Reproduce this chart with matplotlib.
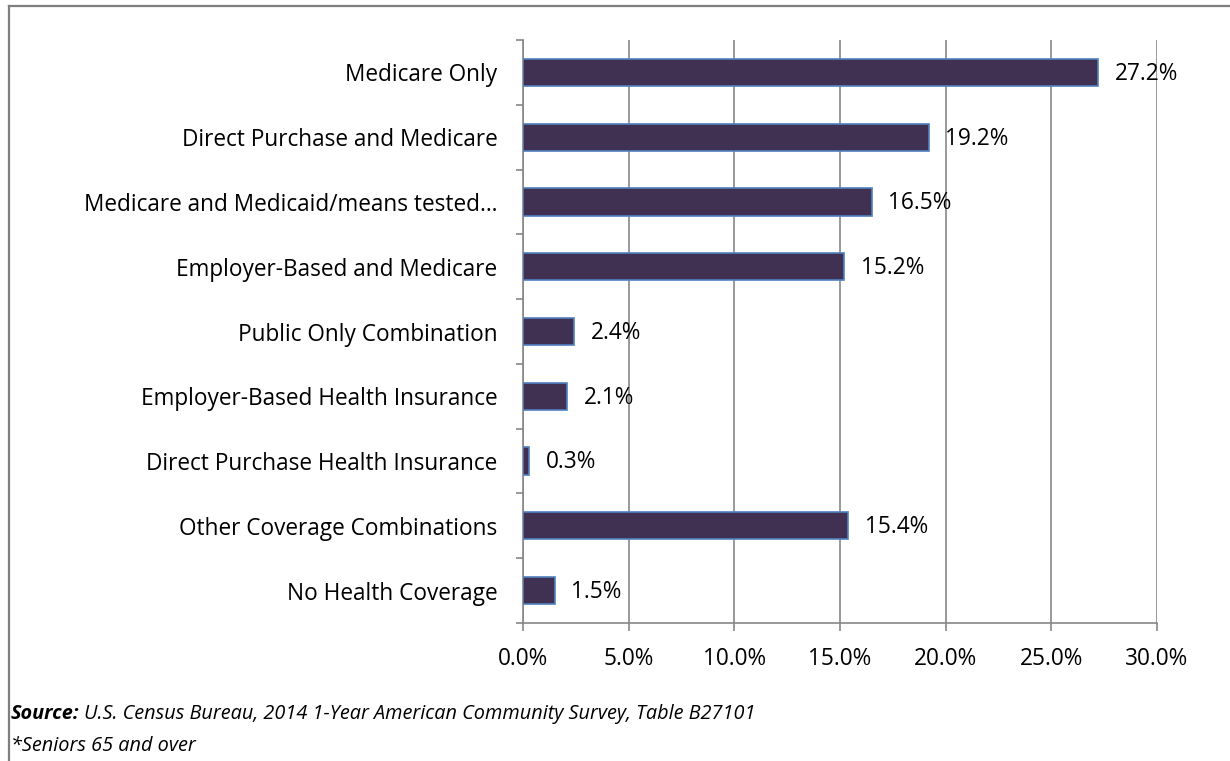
import matplotlib
matplotlib.use("Agg")
import matplotlib.pyplot as plt
from matplotlib.lines import Line2D
import numpy as np

categories = [
    "Medicare Only",
    "Direct Purchase and Medicare",
    "Medicare and Medicaid/means tested\u2026",
    "Employer-Based and Medicare",
    "Public Only Combination",
    "Employer-Based Health Insurance",
    "Direct Purchase Health Insurance",
    "Other Coverage Combinations",
    "No Health Coverage",
]
values = [27.2, 19.2, 16.5, 15.2, 2.4, 2.1, 0.3, 15.4, 1.5]
xticks = [0, 5, 10, 15, 20, 25, 30]
xtick_labels = ["0.0%", "5.0%", "10.0%", "15.0%", "20.0%", "25.0%", "30.0%"]

plt.rcParams['font.family'] = ['Open Sans', 'DejaVu Sans']
FS = 16.3
FS_SRC = 14.35

W, H = 1230, 761
fig = plt.figure(figsize=(W / 100, H / 100), dpi=100)
ax = fig.add_axes([523 / W, 1 - 623 / H, (1157 - 523) / W, (623 - 40) / H])

grid_col = "#878787"
y = np.arange(len(categories))
ax.barh(y, values, height=0.42, color="#403152", edgecolor="#4F81BD",
        linewidth=1.2, zorder=3)

for yi, v in zip(y, values):
    ax.annotate(f"{v:.1f}%", xy=(v, yi), xytext=(12, -1), textcoords="offset points",
                ha="left", va="center", fontsize=FS, color="black")

ax.set_xlim(0, 30)
ax.set_ylim(len(categories) - 0.5, -0.5)
ax.set_xticks(xticks)
ax.set_xticklabels(xtick_labels, fontsize=FS)
ax.set_yticks(y)
ax.set_yticklabels(categories, fontsize=FS)
ax.set_yticks(np.arange(-0.5, len(categories), 1.0), minor=True)

ax.tick_params(axis="y", which="major", length=0, pad=18.5)
ax.tick_params(axis="y", which="minor", length=5, width=1.2, color=grid_col, direction="out")
ax.tick_params(axis="x", which="major", length=6, width=1.2, color=grid_col, direction="out", pad=11)

ax.grid(axis="x", color=grid_col, linewidth=1.2, zorder=0)
ax.set_axisbelow(True)
for s in ["top", "right"]:
    ax.spines[s].set_visible(False)
for s in ["left", "bottom"]:
    ax.spines[s].set_color(grid_col)
    ax.spines[s].set_linewidth(1.2)

# outer border (top and left visible)
bx, by = 8.5 / W, 1 - 5.5 / H
fig.add_artist(Line2D([bx, bx], [0, by], transform=fig.transFigure, color="#7F7F7F", linewidth=1.6))
fig.add_artist(Line2D([bx, 1], [by, by], transform=fig.transFigure, color="#7F7F7F", linewidth=1.6))

t1 = fig.text(11 / W, 1 - 714 / H, "Source:", fontsize=FS_SRC, fontweight="bold",
              fontstyle="italic", va="center", ha="left")
fig.canvas.draw()
bb = t1.get_window_extent()
fig.text((bb.x1 + 5) / W, 1 - 714 / H,
         "U.S. Census Bureau, 2014 1-Year American Community Survey, Table B27101",
         fontsize=FS_SRC, fontstyle="italic", va="center", ha="left")
fig.text(11 / W, 1 - 746 / H, "*Seniors 65 and over", fontsize=FS_SRC, fontstyle="italic",
         va="center", ha="left")

fig.savefig("out.png", dpi=100)
